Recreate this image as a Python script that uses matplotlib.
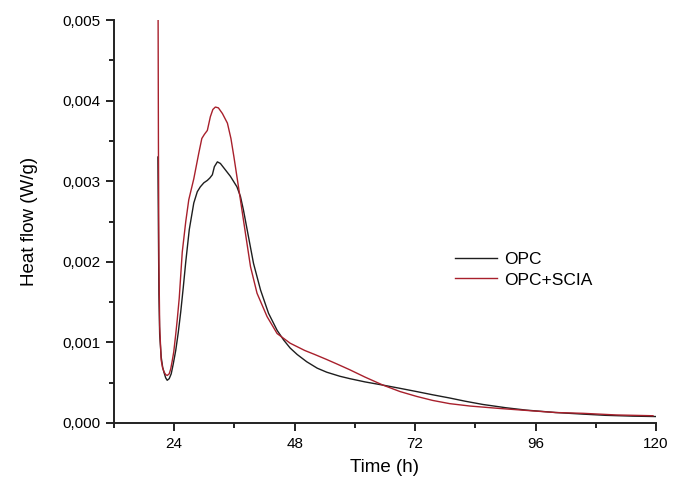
import matplotlib
matplotlib.use("Agg")
import matplotlib.pyplot as plt
from matplotlib.ticker import MultipleLocator, FuncFormatter

plt.rcParams['font.family'] = ['Liberation Sans', 'DejaVu Sans']

# OPC (black)
opc_t = [20.75, 20.85, 20.95, 21.1, 21.4, 21.7, 22.0, 22.3, 22.6, 23.0, 23.4, 23.8,
         24.3, 24.8, 25.3, 25.8, 26.3, 27.0, 27.9, 28.6, 29.2, 29.9, 30.6, 31.1,
         31.6, 32.0, 32.6, 33.2, 34.2, 35.2, 36.5, 37.2, 37.8, 38.8, 39.8, 41.2,
         42.8, 44.5, 45.8, 47.1, 48.5, 50.4, 52.5, 54.4, 57.0, 59.0, 62.0, 65.6,
         69.0, 72.3, 75.5, 78.9, 82.0, 85.5, 90.0, 94.1, 100.0, 105.5, 110.0,
         115.4, 120.0]
opc_q = [0.0033, 0.0024, 0.0016, 0.0011, 0.00082, 0.00069, 0.00062, 0.00056,
         0.00053, 0.00055, 0.00061, 0.00073, 0.00090, 0.00112, 0.00138, 0.00168,
         0.00200, 0.00240, 0.00273, 0.00287, 0.00293, 0.00298, 0.00301, 0.00304,
         0.00308, 0.00318, 0.00324, 0.00322, 0.00314, 0.00306, 0.00293, 0.00281,
         0.00264, 0.00231, 0.00198, 0.00165, 0.00136, 0.00115, 0.00103, 0.00093,
         0.00085, 0.00076, 0.00068, 0.00063, 0.00058, 0.00055, 0.00051, 0.00047,
         0.00043, 0.00039, 0.00035, 0.00031, 0.00027, 0.00023, 0.00019, 0.00016,
         0.00013, 0.00011, 0.000095, 0.000085, 0.000080]

# OPC+SCIA (red)
scia_t = [20.75, 20.85, 20.95, 21.1, 21.4, 21.7, 22.0, 22.3, 22.6, 23.0, 23.3, 23.6,
          23.9, 24.3, 24.6, 25.0, 25.6, 26.3, 26.9, 27.9, 28.9, 29.5, 30.0, 30.6,
          31.2, 31.7, 32.2, 32.8, 33.6, 34.6, 35.3, 35.9, 36.9, 38.2, 39.2, 40.5,
          42.5, 44.5, 47.1, 50.0, 52.0, 54.3, 56.5, 59.0, 62.0, 65.6, 69.0, 72.3,
          75.5, 78.9, 83.0, 88.9, 95.5, 100.0, 105.5, 112.0, 119.4]
scia_q = [0.0060, 0.0035, 0.0020, 0.0012, 0.00078, 0.00068, 0.00063, 0.00060,
          0.00059, 0.00061, 0.00067, 0.00077, 0.00088, 0.00110, 0.00128, 0.00155,
          0.00212, 0.00250, 0.00277, 0.00303, 0.00335, 0.00353, 0.00358, 0.00363,
          0.00380, 0.00389, 0.00392, 0.00391, 0.00384, 0.00372, 0.00353, 0.00330,
          0.00289, 0.00235, 0.00194, 0.00161, 0.00132, 0.00111, 0.00099, 0.00090,
          0.00085, 0.00079, 0.00073, 0.00066, 0.00057, 0.00047, 0.00039, 0.00033,
          0.00028, 0.00024, 0.00021, 0.00018, 0.00015, 0.00013, 0.00012, 0.00010,
          0.00009]

series_labels = ["OPC", "OPC+SCIA"]
x_ticks = [24, 48, 72, 96, 120]
y_ticks = [0.000, 0.001, 0.002, 0.003, 0.004, 0.005]

fig = plt.figure(figsize=(6.85, 4.84), dpi=100)
ax = fig.add_axes([114/685, 1-423/484, (656-114)/685, (423-20)/484])

ax.plot(opc_t, opc_q, color='#1e1e1e', lw=1.0, label=series_labels[0])
ax.plot(scia_t, scia_q, color='#a8202c', lw=1.0, label=series_labels[1])

ax.set_xlim(12, 120)
ax.set_ylim(0, 0.005)
ax.set_xticks(x_ticks)
ax.set_yticks(y_ticks)
ax.xaxis.set_minor_locator(MultipleLocator(12))
ax.yaxis.set_minor_locator(MultipleLocator(0.0005))
ax.yaxis.set_major_formatter(FuncFormatter(lambda v, p: f"{v:.3f}".replace('.', ',')))

for s in ['top', 'right']:
    ax.spines[s].set_visible(False)
for s in ['left', 'bottom']:
    ax.spines[s].set_linewidth(1.4)
    ax.spines[s].set_color('#222222')

ax.tick_params(which='major', direction='out', length=6, width=1.4, labelsize=11,
               color='#222222', pad=4)
ax.tick_params(which='minor', direction='out', length=3.6, width=1.4, color='#222222')

ax.set_xlabel("Time (h)", fontsize=13.5, labelpad=6)
ax.set_ylabel("Heat flow (W/g)", fontsize=13.5, labelpad=17)

leg = ax.legend(loc='upper left', bbox_to_anchor=(455/685, 1-252/484),
                bbox_transform=fig.transFigure, frameon=False, fontsize=12.5,
                borderpad=0, borderaxespad=0, handlelength=2.4, handletextpad=0.45,
                labelspacing=0.3)

fig.savefig("out.png", dpi=100)
